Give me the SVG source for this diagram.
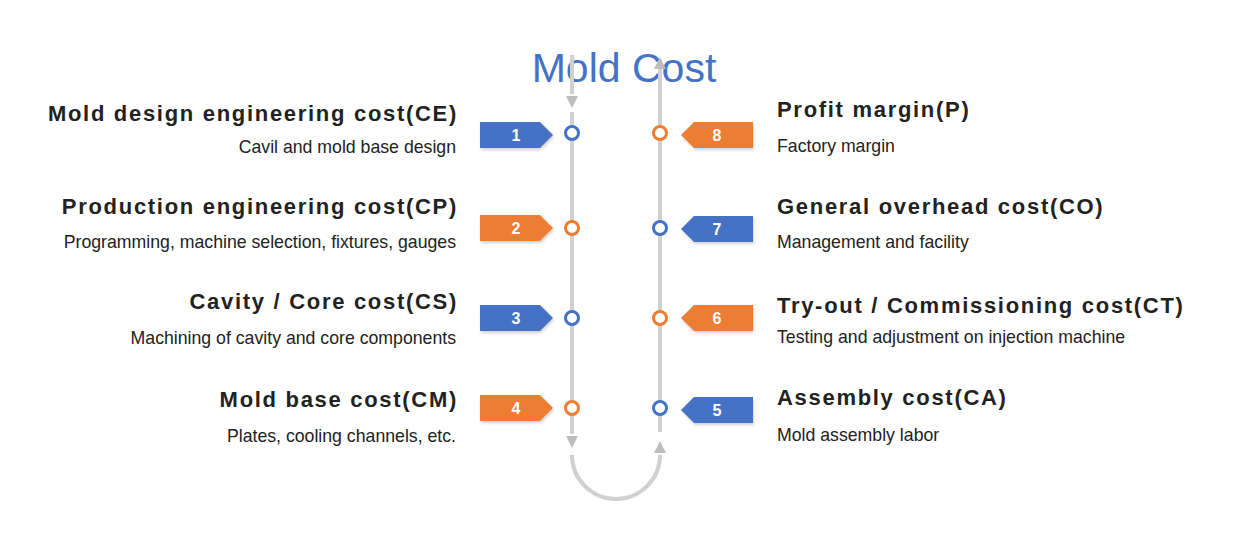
<svg xmlns="http://www.w3.org/2000/svg" width="1244" height="546" viewBox="0 0 1244 546">
<defs>
<style>
.h{font-family:"Liberation Sans",Arial,sans-serif;font-weight:bold;font-size:22px;letter-spacing:1.7px;fill:#222}
.s{font-family:"Liberation Sans",Arial,sans-serif;font-size:17.7px;fill:#222}
.l{text-anchor:end}
.n{font-family:"Liberation Sans",Arial,sans-serif;font-weight:bold;font-size:16px;fill:#fff;text-anchor:middle}
.blue{fill:#4472C4}
.orange{fill:#ED7D31}
.cb{fill:#fff;stroke:#4472C4;stroke-width:3}
.co{fill:#fff;stroke:#ED7D31;stroke-width:3}
.ln{stroke:#d0d0d0;stroke-width:4;fill:none}
.ah{fill:#bdbdbd}
</style>
<filter id="sh" x="-20%" y="-30%" width="150%" height="170%">
<feDropShadow dx="1" dy="2" stdDeviation="1.5" flood-color="#000" flood-opacity="0.18"/>
</filter>
</defs>
<rect width="1244" height="546" fill="#fff"/>
<text x="624" y="82" font-family="Liberation Sans,Arial,sans-serif" font-size="41" fill="#4472C4" text-anchor="middle">Mold Cost</text>
<g id="connectors">
<path class="ln" d="M572 55 V94"/>
<polygon class="ah" points="566,96 578,96 572,108"/>
<path class="ln" d="M572 112 V434"/>
<polygon class="ah" points="566,436 578,436 572,448"/>
<path class="ln" d="M572 455 A44 44 0 0 0 660 455"/>
<polygon class="ah" points="654,453 666,453 660,441"/>
<path class="ln" d="M660 432 V68"/>
<polygon class="ah" points="654,69 666,69 660,57"/>
</g>
<g id="n1">
<polygon class="blue" filter="url(#sh)" points="480,122 540,122 553,135 540,148 480,148"/>
<text class="n" x="516" y="141">1</text>
<circle class="cb" cx="572" cy="133" r="6.5"/>
<text class="h l" x="458" y="121">Mold design engineering cost(CE)</text>
<text class="s l" x="456" y="153">Cavil and mold base design</text>
</g>
<g id="n2">
<polygon class="orange" filter="url(#sh)" points="480,215 540,215 553,228 540,241 480,241"/>
<text class="n" x="516" y="234">2</text>
<circle class="co" cx="572" cy="228" r="6.5"/>
<text class="h l" x="458" y="214">Production engineering cost(CP)</text>
<text class="s l" x="456" y="248">Programming, machine selection, fixtures, gauges</text>
</g>
<g id="n3">
<polygon class="blue" filter="url(#sh)" points="480,305 540,305 553,318 540,331 480,331"/>
<text class="n" x="516" y="324">3</text>
<circle class="cb" cx="572" cy="318" r="6.5"/>
<text class="h l" x="458" y="309">Cavity / Core cost(CS)</text>
<text class="s l" x="456" y="344">Machining of cavity and core components</text>
</g>
<g id="n4">
<polygon class="orange" filter="url(#sh)" points="480,395 540,395 553,408 540,421 480,421"/>
<text class="n" x="516" y="414">4</text>
<circle class="co" cx="572" cy="408" r="6.5"/>
<text class="h l" x="458" y="407">Mold base cost(CM)</text>
<text class="s l" x="456" y="442">Plates, cooling channels, etc.</text>
</g>
<g id="n8">
<polygon class="orange" filter="url(#sh)" points="753,122 694,122 681,135 694,148 753,148"/>
<text class="n" x="717" y="141">8</text>
<circle class="co" cx="660" cy="133" r="6.5"/>
<text class="h" x="777" y="117">Profit margin(P)</text>
<text class="s" x="777" y="152">Factory margin</text>
</g>
<g id="n7">
<polygon class="blue" filter="url(#sh)" points="753,216 694,216 681,229 694,242 753,242"/>
<text class="n" x="717" y="235">7</text>
<circle class="cb" cx="660" cy="228" r="6.5"/>
<text class="h" x="777" y="214">General overhead cost(CO)</text>
<text class="s" x="777" y="248">Management and facility</text>
</g>
<g id="n6">
<polygon class="orange" filter="url(#sh)" points="753,305 694,305 681,318 694,331 753,331"/>
<text class="n" x="717" y="324">6</text>
<circle class="co" cx="660" cy="318" r="6.5"/>
<text class="h" x="777" y="313">Try-out / Commissioning cost(CT)</text>
<text class="s" x="777" y="343">Testing and adjustment on injection machine</text>
</g>
<g id="n5">
<polygon class="blue" filter="url(#sh)" points="753,397 694,397 681,410 694,423 753,423"/>
<text class="n" x="717" y="416">5</text>
<circle class="cb" cx="660" cy="408" r="6.5"/>
<text class="h" x="777" y="405">Assembly cost(CA)</text>
<text class="s" x="777" y="441">Mold assembly labor</text>
</g>
</svg>
